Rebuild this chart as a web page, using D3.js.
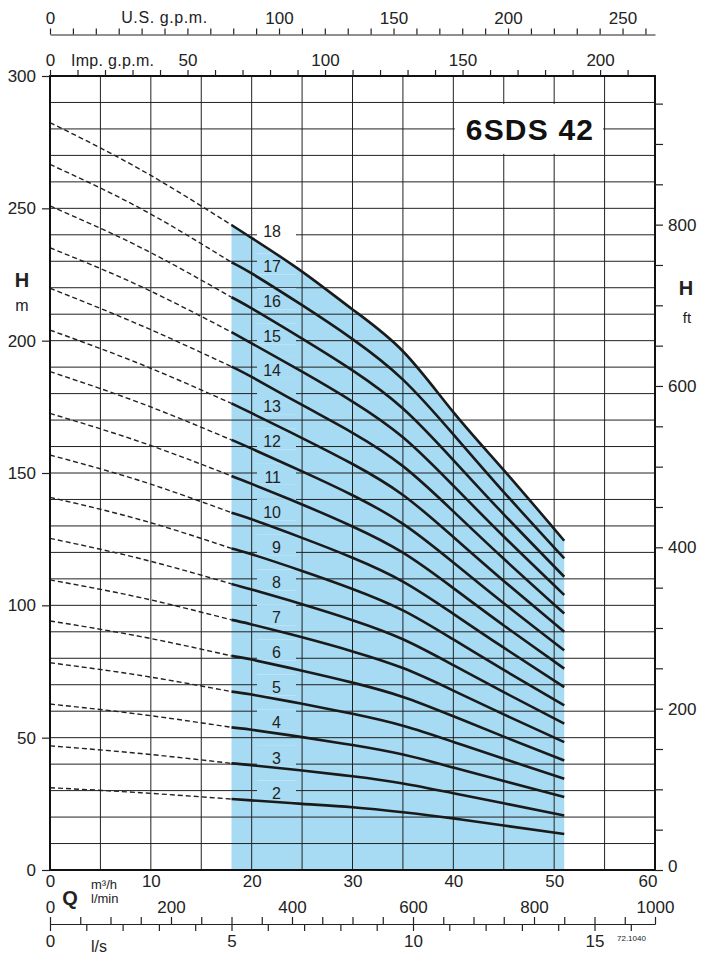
<!DOCTYPE html>
<html>
<head>
<meta charset="utf-8">
<script src="https://cdn.jsdelivr.net/npm/d3@7"></script>
<style>
  body { margin: 0; background: #fff; }
  svg { display: block; font-family: "Liberation Sans", Arial, sans-serif; }
  .grid line { stroke: #222; stroke-width: 1; }
  .ax text { font-size: 17px; fill: #222; font-family: "Liberation Sans", Arial, sans-serif; }
  .ax line, .ax path { stroke: #222; stroke-width: 1.2; }
</style>
</head>
<body>
<svg id="chart" width="701" height="955"></svg>
<script>
// ---------- data ----------

let stages = [2, 3, 4, 5, 6, 7, 8, 9, 10, 11, 12, 13, 14, 15, 16, 17, 18];

// dashed part (outside the working range)
let qDashed = [0, 9, 18];
let headDashed = [
  [31.1, 29.2, 26.8],
  [46.9, 44.0, 40.3],
  [62.7, 58.8, 53.9],
  [78.3, 73.5, 67.4],
  [94.1, 88.2, 80.9],
  [109.6, 102.9, 94.5],
  [125.3, 117.6, 108.1],
  [140.8, 132.3, 121.5],
  [156.8, 147.0, 135.0],
  [172.5, 161.7, 148.9],
  [188.3, 176.4, 162.5],
  [204.0, 191.1, 176.3],
  [219.8, 205.8, 190.2],
  [235.1, 220.5, 203.2],
  [250.9, 235.2, 216.4],
  [266.6, 249.9, 229.6],
  [282.4, 264.6, 243.7]
];

// solid part (working range, blue zone)
let qSolid = [18, 20, 25, 30, 35, 40, 45, 51];
let headSolid = [
  [26.8, 26.3, 25.0, 23.7, 21.8, 19.5, 16.8, 13.6],
  [40.3, 39.6, 37.6, 35.4, 32.7, 29.0, 25.2, 20.6],
  [53.9, 53.0, 50.2, 47.2, 43.6, 38.7, 33.6, 27.6],
  [67.4, 66.3, 62.8, 59.0, 54.5, 48.4, 42.0, 34.5],
  [80.9, 79.5, 75.3, 70.8, 65.4, 58.1, 50.4, 41.4],
  [94.5, 92.8, 87.9, 82.6, 76.3, 67.8, 58.8, 48.3],
  [108.1, 106.0, 100.4, 94.4, 87.2, 77.4, 67.2, 55.3],
  [121.5, 119.3, 113.0, 106.2, 98.1, 87.1, 75.6, 62.2],
  [135.0, 132.5, 125.5, 118.0, 109.0, 96.8, 84.0, 69.1],
  [148.9, 145.9, 138.1, 129.8, 119.9, 106.5, 92.4, 76.1],
  [162.5, 159.2, 150.6, 141.6, 130.8, 116.2, 100.8, 83.0],
  [176.3, 172.6, 163.2, 153.4, 141.7, 125.8, 109.2, 90.0],
  [190.2, 186.3, 175.7, 165.2, 152.6, 135.5, 117.6, 96.9],
  [203.2, 199.0, 188.3, 177.0, 163.5, 145.2, 126.0, 103.9],
  [216.4, 212.2, 200.8, 188.8, 174.4, 154.9, 134.4, 110.8],
  [229.6, 225.4, 213.4, 200.6, 185.3, 164.6, 142.8, 117.7],
  [243.7, 238.8, 226.1, 211.8, 196.0, 173.0, 151.1, 124.4]
];

// tick labels
let hLabels = [0, 50, 100, 150, 200, 250, 300];
let ftLabels = [0, 200, 400, 600, 800];
let m3hLabels = [0, 10, 20, 30, 40, 50, 60];
let lminLabels = [0, 200, 400, 600, 800, 1000];
let lsLabels = [0, 5, 10, 15];
let usLabels = [0, 100, 150, 200, 250];
let impLabels = [0, 50, 100, 150, 200];

// ---------- scales ----------
let svg = d3.select("#chart");
let BLUE = "#a6dbf3";

let x = d3.scaleLinear().domain([0, 60]).range([50, 655]);
let y = d3.scaleLinear().domain([0, 300]).range([870, 76]);

let ft = d3.scaleLinear().domain([0, 300 / 0.3048]).range([870, 76]);
let usg = d3.scaleLinear().domain([0, 60 / 0.227125]).range([50, 655]);
let impg = d3.scaleLinear().domain([0, 60 / 0.272765]).range([50, 655]);
let lmin = d3.scaleLinear().domain([0, 1000]).range([50, 655]);
let ls = d3.scaleLinear().domain([0, 1000 / 60]).range([50, 655]);

let fmtOnly = list => d => list.includes(d) ? d : "";
let smooth = d3.curveNatural;

// ---------- blue working zone (under the top curve) ----------
let topCurve = headSolid[headSolid.length - 1];
let zoneData = qSolid.map((q, i) => [q, topCurve[i]]);

let area = d3.area()
  .x(d => x(d[0]))
  .y0(y(0))
  .y1(d => y(d[1]))
  .curve(smooth);

svg.append("clipPath").attr("id", "zoneClip")
  .append("path").attr("d", area(zoneData));

svg.append("path")
  .attr("d", area(zoneData))
  .attr("fill", BLUE);

// ---------- grid ----------
let grid = svg.append("g").attr("class", "grid");

grid.selectAll("line.v")
  .data(d3.range(5, 60, 5))
  .join("line")
  .attr("class", "v")
  .attr("x1", d => x(d)).attr("x2", d => x(d))
  .attr("y1", y(0)).attr("y2", y(300));

grid.selectAll("line.h")
  .data(d3.range(10, 300, 10))
  .join("line")
  .attr("class", "h")
  .attr("x1", x(0)).attr("x2", x(60))
  .attr("y1", d => y(d)).attr("y2", d => y(d));

// title box
svg.append("rect")
  .attr("x", x(40) + 1.5).attr("y", y(290) + 1.5)
  .attr("width", x(55) - x(40) - 3).attr("height", y(270) - y(290) - 3)
  .attr("fill", "#fff");

svg.append("text")
  .attr("x", 530).attr("y", 140)
  .attr("text-anchor", "middle")
  .attr("font-size", 30).attr("font-weight", "bold")
  .attr("letter-spacing", 1.2)
  .attr("fill", "#111")
  .text("6SDS 42");

// ---------- stage label boxes (hide the grid behind the numbers) ----------
let labelY = i => y(headSolid[i][1]) - 7;

let boxes = svg.append("g");
stages.forEach((n, i) => {
  boxes.append("rect")
    .attr("x", 257).attr("y", labelY(i) - 13)
    .attr("width", 39).attr("height", 21)
    .attr("fill", "#fff");
  boxes.append("rect")
    .attr("x", 257).attr("y", labelY(i) - 13)
    .attr("width", 39).attr("height", 21)
    .attr("fill", BLUE)
    .attr("clip-path", "url(#zoneClip)");
});

// ---------- curves ----------
let line = d3.line()
  .x(d => x(d[0]))
  .y(d => y(d[1]))
  .curve(smooth);

svg.append("g").selectAll("path")
  .data(headDashed)
  .join("path")
  .attr("d", h => line(qDashed.map((q, i) => [q, h[i]])))
  .attr("fill", "none")
  .attr("stroke", "#222")
  .attr("stroke-width", 1.4)
  .attr("stroke-dasharray", "5,3");

svg.append("g").selectAll("path")
  .data(headSolid)
  .join("path")
  .attr("d", h => line(qSolid.map((q, i) => [q, h[i]])))
  .attr("fill", "none")
  .attr("stroke", "#1a1a1a")
  .attr("stroke-width", 2.6);

svg.append("g").selectAll("text")
  .data(stages)
  .join("text")
  .attr("x", 281)
  .attr("y", (d, i) => labelY(i))
  .attr("dy", "0.36em")
  .attr("text-anchor", "end")
  .attr("font-size", 16)
  .attr("fill", "#222")
  .text(d => d);

// ---------- frame ----------
svg.append("rect")
  .attr("x", x(0)).attr("y", y(300))
  .attr("width", x(60) - x(0)).attr("height", y(0) - y(300))
  .attr("fill", "none")
  .attr("stroke", "#111")
  .attr("stroke-width", 2);

// ---------- axes ----------
// H m (left)
let gL = svg.append("g").attr("class", "ax")
  .attr("transform", `translate(${x(0)},0)`)
  .call(d3.axisLeft(y).tickValues(hLabels).tickSize(8).tickPadding(6));
gL.select(".domain").remove();

// H ft (right)
let gR = svg.append("g").attr("class", "ax")
  .attr("transform", `translate(${x(60)},0)`)
  .call(d3.axisRight(ft).tickValues(d3.range(0, 951, 50)).tickSize(8).tickPadding(5).tickFormat(fmtOnly(ftLabels)));
gR.select(".domain").remove();
gR.selectAll("text").filter(d => d === 0).attr("y", -4);

// U.S. g.p.m. (top)
let gUS = svg.append("g").attr("class", "ax")
  .attr("transform", "translate(0,34.5)")
  .call(d3.axisTop(usg).tickValues(d3.range(0, 261, 10)).tickSize(6).tickSizeOuter(0).tickPadding(5).tickFormat(fmtOnly(usLabels)));

svg.append("text")
  .attr("x", usg(50)).attr("y", 23)
  .attr("text-anchor", "middle")
  .attr("font-size", 16).attr("letter-spacing", 0.6).attr("fill", "#222")
  .text("U.S. g.p.m.");

// Imp. g.p.m. (on top of the frame)
let gImp = svg.append("g").attr("class", "ax")
  .attr("transform", `translate(0,${y(300)})`)
  .call(d3.axisTop(impg).tickValues(d3.range(0, 211, 10)).tickSize(6).tickPadding(4).tickFormat(fmtOnly(impLabels)));
gImp.select(".domain").remove();

svg.append("text")
  .attr("x", 71).attr("y", 66)
  .attr("font-size", 16).attr("letter-spacing", 0.3).attr("fill", "#222")
  .text("Imp. g.p.m.");

// m3/h (under the frame)
let gQ = svg.append("g").attr("class", "ax")
  .attr("transform", `translate(0,${y(0)})`)
  .call(d3.axisBottom(x).tickValues(m3hLabels).tickSize(0).tickPadding(5));
gQ.select(".domain").remove();
gQ.selectAll("text").filter(d => d === 60).attr("text-anchor", "end").attr("x", 2);

// l/min (top of bottom line) and l/s (below it)
let gLmin = svg.append("g").attr("class", "ax")
  .attr("transform", "translate(0,924)")
  .call(d3.axisTop(lmin).tickValues(d3.range(0, 1001, 50)).tickSize(7).tickSizeOuter(0).tickPadding(4).tickFormat(fmtOnly(lminLabels)));

let gLs = svg.append("g").attr("class", "ax")
  .attr("transform", "translate(0,924)")
  .call(d3.axisBottom(ls).tickValues(d3.range(0, 17, 1)).tickSize(7).tickSizeOuter(0).tickPadding(4).tickFormat(fmtOnly(lsLabels)));

// ---------- axis titles ----------
function label(txt, xx, yy, size, bold, anchor) {
  svg.append("text")
    .attr("x", xx).attr("y", yy)
    .attr("text-anchor", anchor || "middle")
    .attr("font-size", size)
    .attr("font-weight", bold ? "bold" : "normal")
    .attr("fill", "#222")
    .text(txt);
}

label("H", 22, 287, 20, true);
label("m", 22, 311, 16, false);
label("H", 686, 295, 20, true);
label("ft", 687, 323, 15, false);

label("Q", 70, 905, 20, true);
label("m³/h", 91, 889, 13, false, "start");
label("l/min", 91, 903, 13, false, "start");
label("l/s", 91, 952, 16, false, "start");
label("72.1040", 617, 941, 8, false, "start");
</script>
</body>
</html>
